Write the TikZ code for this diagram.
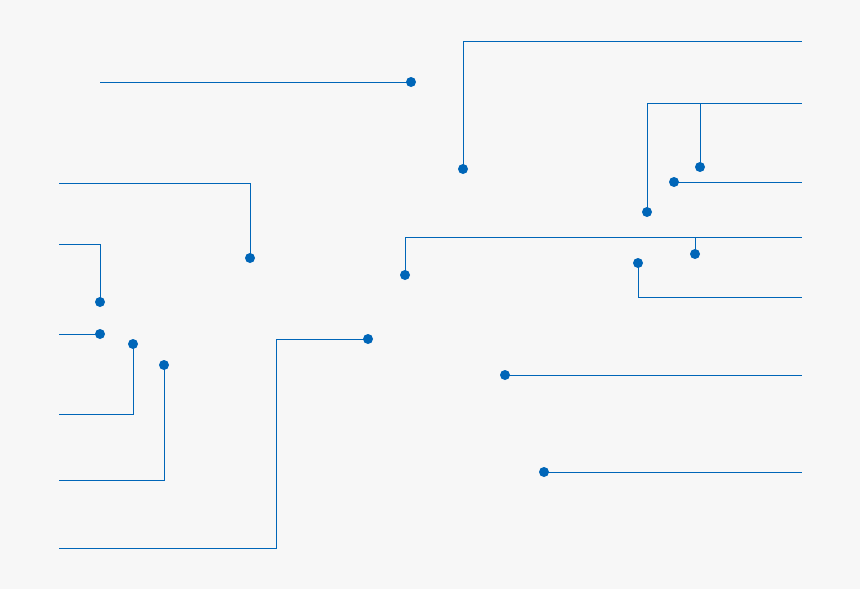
\documentclass[tikz,border=0pt]{standalone}
\definecolor{bg}{HTML}{F7F7F7}
\definecolor{lb}{HTML}{0066B8}
\begin{document}
\begin{tikzpicture}[x=1pt,y=-1pt,
  dot/.style={circle,fill=lb,inner sep=0pt,minimum size=10pt},
  lead/.style={draw=lb,line width=1pt}]
\fill[bg] (0,0) rectangle (860,589);
\useasboundingbox (0,0) rectangle (860,589);
% end points
\coordinate (e1) at (100,82);
\coordinate (e2) at (802,41);
\coordinate (e3) at (802,103);
\coordinate (e5) at (802,182);
\coordinate (e6) at (59,183);
\coordinate (e7) at (59,244);
\coordinate (e8) at (59,334);
\coordinate (e9) at (59,414);
\coordinate (e10) at (59,480);
\coordinate (k11) at (276,339);
\coordinate (e11) at (59,548);
\coordinate (e12) at (802,237);
\coordinate (e14) at (802,297);
\coordinate (e15) at (802,375);
\coordinate (e16) at (802,472);
% connectors
\draw[lead] (411,82) coordinate (c1) -- (e1);
\draw[lead] (463,169) coordinate (c2) |- (e2);
\draw[lead] (647,212) coordinate (c3) |- (e3);
\draw[lead] (700,167) coordinate (c4) -- (700,103);
\draw[lead] (674,182) coordinate (c5) -- (e5);
\draw[lead] (250,258) coordinate (c6) |- (e6);
\draw[lead] (100,302) coordinate (c7) |- (e7);
\draw[lead] (100,334) coordinate (c8) -- (e8);
\draw[lead] (133,344) coordinate (c9) |- (e9);
\draw[lead] (164,365) coordinate (c10) |- (e10);
\draw[lead] (368,339) coordinate (c11) -- (k11) |- (e11);
\draw[lead] (405,275) coordinate (c12) |- (e12);
\draw[lead] (695,254) coordinate (c13) -- (695,237);
\draw[lead] (638,263) coordinate (c14) |- (e14);
\draw[lead] (505,375) coordinate (c15) -- (e15);
\draw[lead] (544,472) coordinate (c16) -- (e16);
% dots
\foreach \i in {1,...,16} \node[dot] (d\i) at (c\i) {};
\end{tikzpicture}
\end{document}
